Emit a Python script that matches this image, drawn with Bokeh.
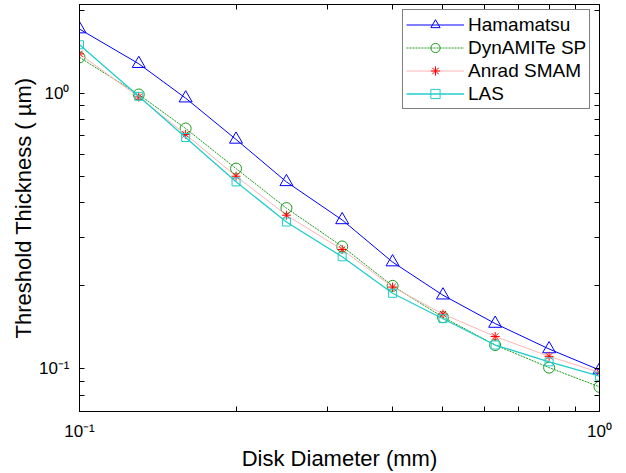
from bokeh.plotting import figure
from bokeh.models import Range1d, FixedTicker, LogAxis, Legend, LegendItem
from bokeh.embed import file_html
from bokeh.resources import INLINE

# Data
diameter = [0.1, 0.13, 0.16, 0.2, 0.25, 0.32, 0.4, 0.5, 0.63, 0.8, 1.0]
hamamatsu = [1.71, 1.28, 0.96, 0.68, 0.477, 0.347, 0.244, 0.185, 0.146, 0.118, 0.099]
dynamite = [1.35, 0.99, 0.745, 0.533, 0.383, 0.278, 0.200, 0.154, 0.122, 0.101, 0.086]
anrad = [1.39, 0.97, 0.709, 0.500, 0.361, 0.271, 0.198, 0.158, 0.131, 0.111, 0.097]
las = [1.50, 0.975, 0.691, 0.477, 0.341, 0.255, 0.188, 0.152, 0.122, 0.106, 0.094]

series_names = ["Hamamatsu", "DynAMITe SP", "Anrad SMAM", "LAS"]

x_major = [0.1, 1.0]
x_minor = [0.2, 0.3, 0.4, 0.5, 0.6, 0.7, 0.8, 0.9]
y_major = [0.1, 1.0]
y_minor = [0.08, 0.09, 0.2, 0.3, 0.4, 0.5, 0.6, 0.7, 0.8, 0.9, 2.0]
x_labels = {0.1: "10\u207b\u00b9", 1.0: "10\u2070"}
y_labels = {0.1: "10\u207b\u00b9", 1.0: "10\u2070"}

FONT = "Liberation Sans"

p = figure(width=626, height=473, x_axis_type="log", y_axis_type="log",
           x_range=Range1d(0.1, 1.0), y_range=Range1d(0.07, 2.1),
           output_backend="svg", toolbar_location=None,
           min_border_left=79, min_border_right=27, min_border_top=4,
           min_border_bottom=61)
p.xgrid.visible = False
p.ygrid.visible = False
p.outline_line_color = "#000000"
p.outline_line_width = 1
p.background_fill_color = "white"
p.border_fill_color = "white"


def style_axis(ax):
    ax.axis_line_color = "#000000"
    ax.major_tick_line_color = "#000000"
    ax.minor_tick_line_color = "#000000"
    ax.major_tick_in = 5
    ax.major_tick_out = 0
    ax.minor_tick_in = 5
    ax.minor_tick_out = 0
    ax.major_label_text_font = FONT
    ax.major_label_text_font_size = "17px"
    ax.major_label_text_color = "#000000"
    ax.axis_label_text_font = FONT
    ax.axis_label_text_font_size = "22px"
    ax.axis_label_text_font_style = "normal"
    ax.axis_label_text_color = "#000000"


xa = p.xaxis[0]
xa.ticker = FixedTicker(ticks=x_major, minor_ticks=x_minor)
xa.major_label_overrides = x_labels
xa.axis_label = "Disk Diameter (mm)"
style_axis(xa)
xa.major_label_standoff = 10
xa.axis_label_standoff = 2

ya = p.yaxis[0]
ya.ticker = FixedTicker(ticks=y_major, minor_ticks=y_minor)
ya.major_label_overrides = y_labels
ya.axis_label = "Threshold Thickness ( \u00b5m)"
style_axis(ya)
ya.major_label_standoff = 10
ya.axis_label_standoff = 0

top = LogAxis(ticker=FixedTicker(ticks=[], minor_ticks=x_major + x_minor))
style_axis(top)
top.major_label_standoff = 0
p.add_layout(top, "above")

right = LogAxis(ticker=FixedTicker(ticks=[], minor_ticks=y_major + y_minor))
style_axis(right)
right.major_label_standoff = 0
p.add_layout(right, "right")

# Series
h_line = p.line(diameter, hamamatsu, line_color="#0000ff", line_width=1)
h_mark = p.scatter(diameter, hamamatsu, marker="triangle", size=13,
                   line_color="#0000ff", fill_alpha=0, line_width=1)

d_line = p.line(diameter, dynamite, line_color="#1a9a1a", line_width=1,
                line_dash="2 1")
d_mark = p.scatter(diameter, dynamite, marker="circle", size=11,
                   line_color="#1a9a1a", fill_alpha=0, line_width=1)

a_line = p.line(diameter, anrad, line_color="#ffb4b4", line_width=1)
a_mark = p.scatter(diameter, anrad, marker="asterisk", size=9,
                   line_color="#ff0000", line_width=1)

l_line = p.line(diameter, las, line_color="#22cccc", line_width=1.3)
l_mark = p.scatter(diameter, las, marker="square", size=8,
                   line_color="#22cccc", fill_alpha=0, line_width=1)

legend = Legend(items=[
    LegendItem(label=series_names[0], renderers=[h_line, h_mark]),
    LegendItem(label=series_names[1], renderers=[d_line, d_mark]),
    LegendItem(label=series_names[2], renderers=[a_line, a_mark]),
    LegendItem(label=series_names[3], renderers=[l_line, l_mark]),
], location=(323, 302))
legend.margin = 0
legend.padding = 3
legend.spacing = 0
legend.label_height = 23
legend.glyph_height = 23
legend.glyph_width = 58
legend.label_standoff = 4
legend.label_text_font = FONT
legend.label_text_font_size = "19px"
legend.label_text_color = "#000000"
legend.border_line_color = "#000000"
legend.border_line_width = 1
legend.background_fill_color = "white"
legend.background_fill_alpha = 1
p.add_layout(legend)

open("out.html", "w").write(file_html(p, INLINE))
